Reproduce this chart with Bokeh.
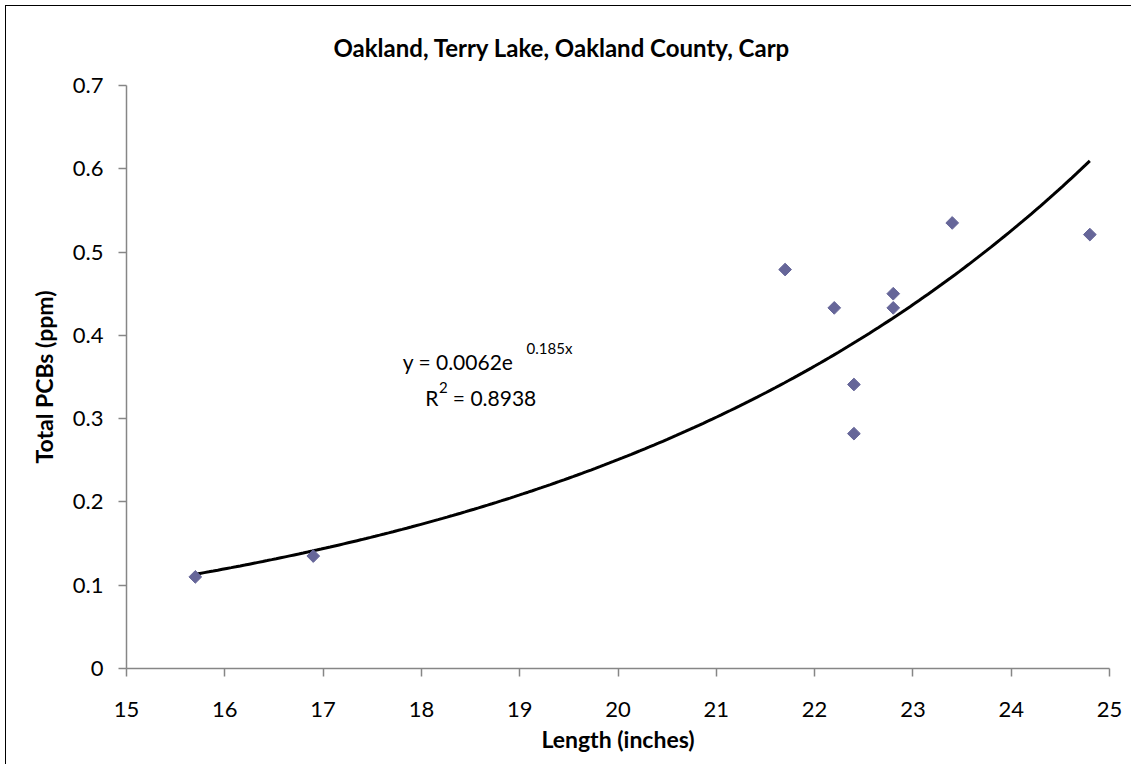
import numpy as np
from bokeh.plotting import figure
from bokeh.models import Range1d, FixedTicker, Label
from bokeh.embed import file_html
from bokeh.resources import INLINE

# ---- data ----
length_in = [15.7, 16.9, 21.7, 22.2, 22.4, 22.4, 22.8, 22.8, 23.4, 24.8]
total_pcbs = [0.110, 0.135, 0.479, 0.433, 0.341, 0.282, 0.450, 0.433, 0.535, 0.521]

x_ticks = [15, 16, 17, 18, 19, 20, 21, 22, 23, 24, 25]
y_ticks = [0, 0.1, 0.2, 0.3, 0.4, 0.5, 0.6, 0.7]
y_tick_labels = ["0", "0.1", "0.2", "0.3", "0.4", "0.5", "0.6", "0.7"]

# exponential trendline shown on the chart: y = 0.0062 e^(0.185x), R^2 = 0.8938
trend_a = 0.0062
trend_b = 0.185

title_text = "Oakland, Terry Lake, Oakland County, Carp"
x_label = "Length (inches)"
y_label = "Total PCBs (ppm)"

FONT = "Lato"
AXIS_GRAY = "#868686"

p = figure(width=1131, height=764, output_backend="svg", toolbar_location=None,
           x_range=Range1d(15, 25), y_range=Range1d(0, 0.7),
           min_border_left=126, min_border_right=22,
           min_border_top=85, min_border_bottom=96)
# chart-area border (left and top edges visible, 5px inside)
p.border_fill_alpha = 0
p.styles = {
    "background": ("linear-gradient(black, black) 5px 5px / 1px 100% no-repeat, "
                   "linear-gradient(black, black) 5px 5px / 100% 1px no-repeat, white"),
}

p.title.text = title_text
p.title.text_font = FONT
p.title.text_font_size = "24px"
p.title.text_font_style = "bold"
p.title.text_color = "black"
p.title.align = "left"
p.title.offset = 207
p.title.standoff = 47

p.grid.visible = False
p.outline_line_color = None
p.background_fill_color = "white"

for ax in (p.xaxis[0], p.yaxis[0]):
    ax.axis_line_color = AXIS_GRAY
    ax.axis_line_width = 1.5
    ax.major_tick_line_color = AXIS_GRAY
    ax.major_tick_line_width = 1.5
    ax.major_tick_in = 0
    ax.major_tick_out = 8
    ax.minor_tick_line_color = None
    ax.major_label_text_font = FONT
    ax.major_label_text_font_size = "22px"
    ax.major_label_text_color = "black"
    ax.axis_label_text_font = FONT
    ax.axis_label_text_font_size = "23px"
    ax.axis_label_text_font_style = "bold"
    ax.axis_label_text_color = "black"

p.xaxis.ticker = FixedTicker(ticks=x_ticks)
p.yaxis.ticker = FixedTicker(ticks=y_ticks)
p.yaxis.major_label_overrides = {t: l for t, l in zip(y_ticks, y_tick_labels)}
p.xaxis.major_label_standoff = 25
p.yaxis.major_label_standoff = 15
p.xaxis.axis_label = x_label
p.yaxis.axis_label = y_label
p.xaxis.axis_label_standoff = 5
p.yaxis.axis_label_standoff = 12

# trendline
xs = np.linspace(min(length_in), max(length_in), 200)
p.line(xs, trend_a * np.exp(trend_b * xs), line_color="black", line_width=3)

# data points (Excel-style diamonds)
p.scatter(length_in, total_pcbs, marker="square", angle=np.pi / 4, size=9,
          fill_color="#666699", line_color="#666699")

# trendline equation labels
def lab(x, y, text, size):
    p.add_layout(Label(x=x, y=y, text=text, text_font=FONT, text_font_size=size,
                       text_baseline="middle", text_align="left", text_color="black"))

lab(17.81, 0.3686, "y = 0.0062e", "21px")
lab(19.07, 0.3850, "0.185x", "15px")
lab(18.04, 0.3254, "R", "21px")
lab(18.18, 0.3374, "2", "15px")
lab(18.32, 0.3254, "= 0.8938", "21px")

open("out.html", "w").write(file_html(p, INLINE))
